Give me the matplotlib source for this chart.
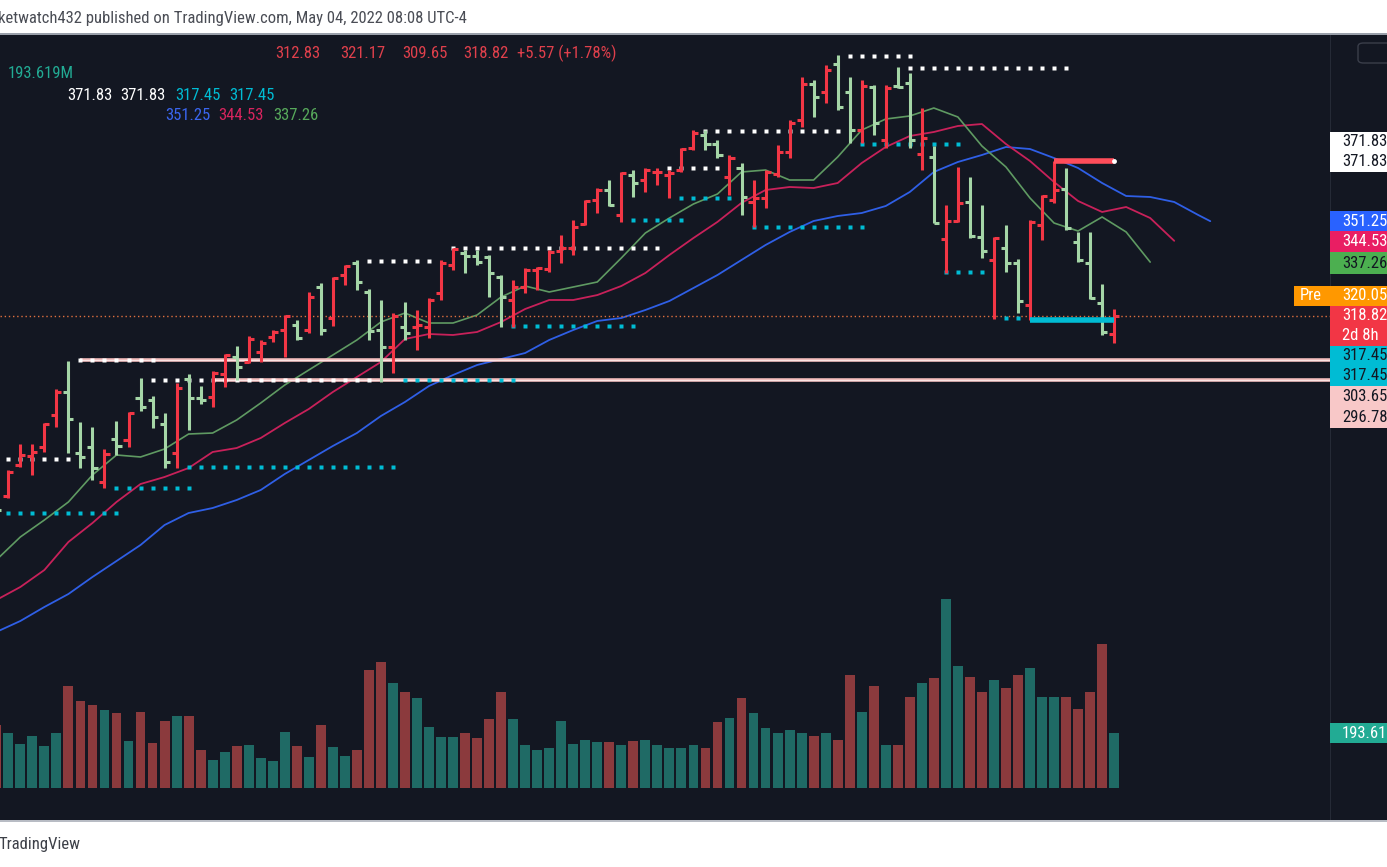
import matplotlib
matplotlib.use('Agg')
import matplotlib.pyplot as plt
from matplotlib.collections import LineCollection
from matplotlib.patches import Rectangle, FancyBboxPatch
from matplotlib import font_manager as fm

# ---------------- data (weekly bars) ----------------
opens = [256.0, 257.36, 267.86, 271.0, 274.02, 284.96, 292.83, 271.96, 274.02, 262.05,
         276.75, 276.41, 290.77, 290.09, 281.88, 271.96, 297.27, 290.77, 291.22, 298.98,
         304.80, 303.19, 306.61, 311.74, 314.03, 315.74, 314.03, 328.84, 318.03, 332.84,
         337.05, 327.13, 314.03, 308.32, 315.16, 315.06, 315.16, 326.79, 336.26, 340.36,
         339.34, 338.89, 332.05, 324.29, 328.84, 334.55, 334.79, 341.15, 341.97, 350.28,
         358.49, 361.91, 353.36, 367.04, 365.33, 368.07, 367.04, 368.75, 376.17, 380.72,
         377.64, 366.46, 369.33, 357.80, 359.07, 367.28, 374.80, 385.85, 398.06, 395.32,
         404.90, 395.32, 382.43, 397.24, 379.01, 397.48, 398.40, 374.22, 373.30, 345.15,
         351.41, 357.91, 345.94, 337.97, 341.97, 337.05, 322.58, 349.94, 358.49, 362.15,
         344.23, 337.05, 323.37, 312.83]
highs = [258.0, 266.15, 275.04, 275.04, 282.22, 293.85, 303.43, 282.57, 280.86, 273.33,
         282.91, 285.99, 297.61, 291.46, 285.64, 295.90, 298.98, 294.88, 300.11, 305.82,
         308.56, 311.98, 310.61, 314.03, 319.16, 317.45, 327.13, 330.00, 332.26, 336.26,
         337.97, 327.95, 324.29, 319.84, 323.71, 320.87, 324.87, 337.97, 341.97, 341.39,
         341.39, 339.68, 332.84, 331.13, 335.13, 335.68, 341.39, 346.52, 351.65, 358.49,
         362.49, 365.33, 368.17, 368.75, 369.33, 369.33, 368.75, 376.17, 382.43, 382.43,
         379.01, 373.88, 371.04, 365.33, 368.75, 377.30, 385.85, 400.66, 399.53, 404.66,
         408.08, 400.66, 399.53, 397.82, 397.82, 404.08, 401.82, 389.85, 376.96, 356.78,
         369.88, 366.46, 356.78, 345.94, 349.94, 338.21, 351.65, 360.20, 371.83, 369.33,
         347.65, 347.65, 329.76, 321.17]
lows = [249.0, 256.47, 267.28, 264.44, 272.31, 280.86, 271.96, 266.83, 262.73, 259.99,
        271.28, 274.02, 286.33, 280.51, 266.83, 266.83, 279.83, 288.72, 287.80, 294.64,
        296.93, 302.85, 303.19, 310.03, 304.69, 310.61, 312.90, 312.32, 315.40, 329.42,
        327.71, 310.61, 296.35, 299.32, 310.61, 307.19, 311.19, 324.29, 334.55, 333.42,
        336.26, 325.42, 315.16, 315.16, 326.58, 327.71, 333.97, 336.84, 339.68, 349.94,
        353.94, 356.44, 351.07, 359.62, 361.33, 363.62, 359.07, 368.17, 375.59, 375.59,
        372.75, 360.20, 353.36, 349.36, 355.65, 366.46, 372.75, 383.56, 386.98, 391.56,
        389.27, 377.88, 377.88, 380.72, 376.17, 396.69, 376.17, 368.75, 350.52, 333.42,
        351.07, 345.39, 338.55, 317.69, 333.97, 319.74, 317.45, 344.81, 357.36, 348.23,
        337.39, 324.53, 312.32, 309.65]
closes = [252.5, 265.57, 271.28, 272.31, 281.88, 292.83, 283.59, 270.60, 266.83, 271.62,
          274.36, 285.64, 287.70, 284.28, 268.89, 294.19, 290.77, 290.26, 299.22, 305.48,
          301.48, 310.85, 309.69, 313.45, 318.82, 311.19, 325.42, 314.03, 331.71, 335.92,
          330.55, 313.79, 308.32, 318.82, 312.90, 315.74, 324.29, 337.05, 341.63, 339.34,
          337.39, 333.63, 325.42, 328.84, 334.55, 335.13, 340.81, 341.97, 349.15, 358.25,
          361.91, 356.78, 367.83, 364.20, 368.75, 368.17, 367.62, 375.83, 381.30, 377.64,
          373.88, 372.75, 359.62, 359.17, 368.17, 374.80, 384.72, 398.06, 393.82, 402.95,
          390.40, 382.43, 397.58, 384.72, 396.69, 397.14, 379.01, 379.59, 350.73, 351.41,
          357.57, 346.18, 341.15, 345.39, 336.84, 324.05, 351.07, 359.86, 361.91, 348.81,
          337.97, 324.87, 313.25, 318.82]
volumes_m = [222, 193, 154, 182, 147, 193, 359, 306, 292, 274,
             264, 165, 268, 157, 236, 253, 253, 133, 98, 125,
             147, 150, 104, 93, 196, 147, 109, 221, 143, 111,
             133, 416, 444, 370, 339, 316, 214, 178, 178, 194,
             175, 242, 339, 242, 150, 132, 139, 236, 154, 169,
             163, 162, 151, 165, 169, 151, 140, 140, 151, 140,
             233, 247, 318, 264, 211, 194, 204, 194, 183, 194,
             169, 399, 268, 360, 151, 151, 321, 371, 388, 668,
             431, 392, 339, 381, 353, 399, 424, 321, 321, 321,
             279, 339, 509, 193.619]

# Alligator lines (displaced forward), read every second bar
lips_idx = list(range(0, 97, 2))
lips = [235.37, 243.24, 249.05, 255.21, 264.44, 271.28, 270.60, 273.33, 278.46, 278.80,
        283.25, 289.06, 295.22, 300.35, 305.48, 310.61, 316.77, 319.84, 316.42, 316.42,
        319.16, 325.32, 329.08, 327.03, 328.74, 330.45, 338.65, 347.20, 352.33, 357.12,
        360.54, 368.07, 368.75, 365.33, 365.33, 373.20, 382.43, 386.19, 387.22, 389.95,
        386.88, 376.96, 369.78, 359.17, 350.62, 347.89, 352.68, 347.55, 337.26]
teeth_idx = list(range(0, 99, 2))
teeth = [221.69, 226.14, 231.95, 241.53, 248.02, 255.21, 261.36, 263.76, 266.83, 272.31,
         273.67, 277.09, 282.22, 287.01, 292.83, 297.96, 303.09, 310.95, 312.66, 312.32,
         313.35, 316.77, 321.21, 324.29, 324.29, 325.98, 329.08, 333.52, 339.68, 345.49,
         351.00, 357.50, 361.91, 362.94, 362.59, 364.30, 371.14, 376.62, 380.38, 381.75,
         383.80, 384.48, 377.64, 371.83, 364.65, 358.15, 354.39, 356.10, 352.33, 344.53]
jaw_idx = list(range(0, 101, 2)) + [101]
jaw = [210.75, 214.51, 219.30, 223.74, 229.56, 235.02, 240.50, 247.34, 251.44, 253.15,
       255.89, 259.31, 264.78, 269.57, 274.36, 278.80, 284.62, 289.41, 294.88, 298.64,
       302.06, 304.11, 306.16, 310.61, 314.03, 317.11, 318.13, 320.87, 323.95, 328.39,
       332.84, 337.97, 343.10, 347.55, 351.31, 353.02, 354.04, 356.44, 361.23, 368.07,
       371.49, 373.88, 376.62, 375.93, 372.85, 369.43, 364.30, 359.86, 359.52, 357.81,
       353.36, 351.25]

# dotted pivot levels
res_levels = [269.91, 303.65, 296.78, 337.63, 342.24, 369.33, 382.09, 407.84, 403.74]
res_from = [1, 7, 13, 31, 38, 56, 59, 71, 76]
res_to = [6, 13, 31, 36, 55, 60, 70, 76, 89]
sup_levels = [251.44, 260.10, 267.18, 296.93, 315.50, 351.65, 359.07, 349.36, 377.64, 333.87, 318.13]
sup_from = [1, 10, 16, 34, 43, 53, 57, 63, 72, 79, 84]
sup_to = [10, 16, 33, 43, 53, 57, 61, 72, 80, 82, 85]

ray_levels = [303.65, 296.78]
ray_from = [7, 18]
hi_level, hi_from = 371.83, 88
lo_level, lo_from = 317.45, 86
pre_price = 320.05
vol_label = '193.619M'

# ---------------- style ----------------
W, H = 1387, 867
BG = '#131722'
UP_BAR = '#f23645'
DN_BAR = '#a5d6a7'
VOL_UP = '#1f6a65'
VOL_DN = '#8b3a3d'

names = {f.name for f in fm.fontManager.ttflist}
def pick(cands):
    for c in cands:
        if c in names:
            return c
    return 'DejaVu Sans'
NARROW = pick(['Liberation Sans Narrow', 'Roboto Condensed', 'Open Sans Condensed', 'Roboto'])
FS = 11.0 if NARROW == 'Liberation Sans Narrow' else 12.0

fig = plt.figure(figsize=(W / 100, H / 100), dpi=100)
fig.patch.set_facecolor('white')

def fx(x):
    return x / W

def fy(y):
    return 1 - y / H

def prect(x0, y0, x1, y1, color, z=1):
    fig.patches.append(Rectangle((fx(x0), fy(y1)), (x1 - x0) / W, (y1 - y0) / H,
                                 transform=fig.transFigure, facecolor=color,
                                 edgecolor='none', zorder=z))

def ptext(x, y, s, color, size=FS, ha='left'):
    fig.text(fx(x), fy(y), s, color=color, fontsize=size, ha=ha, va='center',
             family=NARROW, zorder=9)

# chart background spanning the full width
prect(0, 35, W, 820, BG, z=-2)
prect(0, 33, W, 35, '#9aa0aa', z=-1)
prect(0, 820, W, 822, '#b8bcc4', z=-1)
prect(1330, 35, 1331, 820, '#252a36', z=-1)

rect = [0, fy(820), fx(1330), (820 - 35) / H]
KL, KR = 0.308, 110.96
PB, PT = 146.45, 414.92

# volume pane (same area, own scale)
vax = fig.add_axes(rect, zorder=2)
vax.patch.set_visible(False)
vax.set_xlim(KL, KR)
vax.set_ylim(-114.3, 2664.6)
vax.axis('off')
n = len(closes)
idx = list(range(n))
vcols = [VOL_UP if c >= o else VOL_DN for o, c in zip(opens, closes)]
vax.bar(idx, volumes_m, width=0.82, color=vcols, linewidth=0)

# price pane
ax = fig.add_axes(rect, zorder=3)
ax.patch.set_visible(False)
ax.set_xlim(KL, KR)
ax.set_ylim(PB, PT)
ax.axis('off')

# alligator
ax.plot(jaw_idx, jaw, color='#2f5fe6', lw=1.3, zorder=2, solid_capstyle='round')
ax.plot(teeth_idx, teeth, color='#c8215a', lw=1.3, zorder=2, solid_capstyle='round')
ax.plot(lips_idx, lips, color='#5f9a62', lw=1.2, zorder=2, solid_capstyle='round')

# horizontal rays
for lv, k0 in zip(ray_levels, ray_from):
    ax.plot([k0, KR], [lv, lv], color='#f3bdbd', lw=2.6, zorder=3, solid_capstyle='butt')
    ax.plot([k0, KR], [lv, lv], color='#fbe3e3', lw=0.8, zorder=3)

# last-price dotted line
ax.plot([KL, KR], [closes[-1], closes[-1]], color='#e0703f', lw=1.0,
        linestyle=(0, (1, 2)), zorder=2)

# dotted pivot levels
for lv, a, b in zip(res_levels, res_from, res_to):
    ks = list(range(a, b + 1))
    ax.plot(ks, [lv] * len(ks), linestyle='none', marker='s', ms=2.3,
            color='white', mec='none', zorder=3)
for lv, a, b in zip(sup_levels, sup_from, sup_to):
    ks = list(range(a, b + 1))
    ax.plot(ks, [lv] * len(ks), linestyle='none', marker='s', ms=2.3,
            color='#00bcd4', mec='none', zorder=3)

# OHLC bars
segs, cols = [], []
for k in idx:
    o, h, l, c = opens[k], highs[k], lows[k], closes[k]
    col = UP_BAR if c >= o else DN_BAR
    segs += [[(k, l), (k, h)], [(k - 0.42, o), (k, o)], [(k, c), (k + 0.42, c)]]
    cols += [col] * 3
ax.add_collection(LineCollection(segs, colors=cols, linewidths=2.2, capstyle='butt', zorder=4))

# thick level lines
last_k = n - 1
ax.plot([hi_from, last_k], [hi_level, hi_level], color='#ff4d5a', lw=4.0, zorder=5,
        solid_capstyle='butt')
ax.plot([last_k], [hi_level], marker='o', ms=3.5, color='white', mec='none', zorder=6)
ax.plot([lo_from, last_k], [lo_level, lo_level], color='#00bcd4', lw=4.0, zorder=5,
        solid_capstyle='butt')

# ---------------- texts ----------------
ptext(-2, 18, 'ketwatch432 published on TradingView.com, May 04, 2022 08:08 UTC-4', '#4a4d55')
ptext(-2, 845, 'TradingView', '#3d4048')

red_txt = '#e0404c'
ohlc_txt = ['%.2f' % opens[-1], '%.2f' % highs[-1], '%.2f' % lows[-1], '%.2f' % closes[-1]]
chg = closes[-1] - closes[-2]
for s, x in zip(ohlc_txt + ['+%.2f (+%.2f%%)' % (chg, chg / closes[-2] * 100)],
                [275, 340, 402, 463, 517]):
    ptext(x, 53, s, red_txt)
ptext(8, 74, vol_label, '#22ab94')
ptext(67, 95, '%.2f' % hi_level, 'white')
ptext(120, 95, '%.2f' % hi_level, 'white')
ptext(175, 95, '%.2f' % lo_level, '#00bcd4')
ptext(229, 95, '%.2f' % lo_level, '#00bcd4')
ptext(165, 116, '%.2f' % jaw[-1], '#3a66f0')
ptext(218, 116, '%.2f' % teeth[-1], '#d8245e')
ptext(273, 116, '%.2f' % lips[-1], '#57a95b')

# top-right button outline
fig.patches.append(FancyBboxPatch((fx(1358), fy(63)), 40 / W, 20 / H,
                                  boxstyle='round,pad=0,rounding_size=0.004',
                                  transform=fig.transFigure, facecolor='none',
                                  edgecolor='#3a3e4a', lw=1, zorder=8))

# right price-scale labels
def plabel(y0, y1, bg, lines, fg, x0=1330):
    prect(x0, y0, W, y1, bg, z=8)
    h = (y1 - y0) / len(lines)
    for i, s in enumerate(lines):
        ptext(x0 + 12, y0 + h * (i + 0.5), s, fg)

plabel(132, 172, '#ffffff', ['%.2f' % hi_level, '%.2f' % hi_level], '#131722')
plabel(211, 231, '#2962ff', ['%.2f' % jaw[-1]], 'white')
plabel(231, 252, '#e91e63', ['%.2f' % teeth[-1]], 'white')
plabel(252, 274, '#4caf50', ['%.2f' % lips[-1]], '#131722')
prect(1294, 286, 1330, 306, '#ff9800', z=8)
ptext(1300, 296, 'Pre', 'white')
plabel(286, 306, '#ff9800', ['%.2f' % pre_price], 'white')
plabel(306, 346, '#f23645', ['%.2f' % closes[-1], '2d 8h'], 'white')
plabel(346, 386, '#00bcd4', ['%.2f' % lo_level, '%.2f' % lo_level], '#131722')
plabel(386, 428, '#f8c8c8', ['%.2f' % ray_levels[0], '%.2f' % ray_levels[1]], '#131722')
plabel(723, 743, '#22ab94', [vol_label[:6]], 'white')

fig.savefig('out.png', dpi=100, facecolor=fig.get_facecolor())
